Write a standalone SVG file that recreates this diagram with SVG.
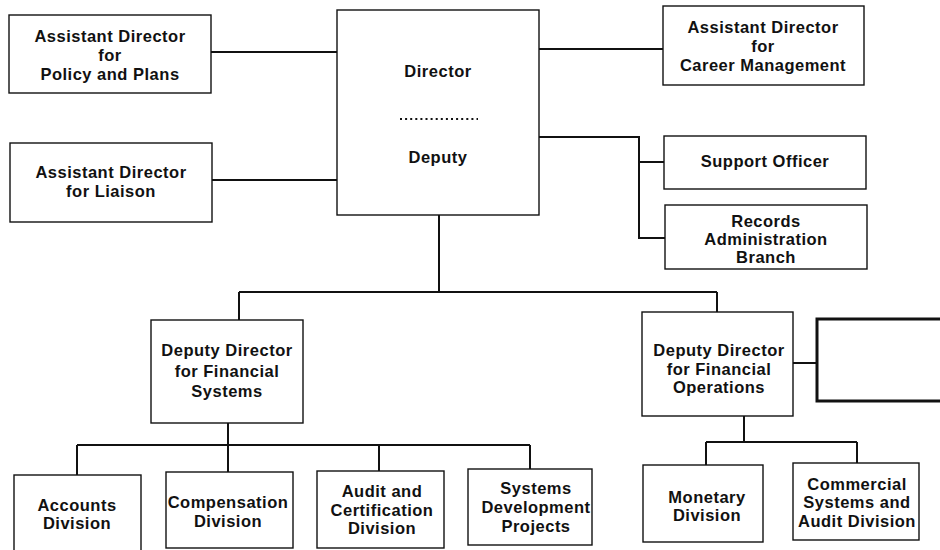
<svg xmlns="http://www.w3.org/2000/svg" width="940" height="550" viewBox="0 0 940 550">
<style>
.box{fill:#fff;stroke:#111;stroke-width:1.4}
.thick{fill:#fff;stroke:#111;stroke-width:3}
.con{fill:none;stroke:#111;stroke-width:2}
text{font-family:"Liberation Sans",Arial,sans-serif;font-size:16.5px;font-weight:bold;letter-spacing:0.5px;fill:#111;text-anchor:middle}
</style>
<rect width="940" height="550" fill="#fff"/>
<g id="connectors">
<path class="con" d="M211 52H337M212 180H337M539 49H663M539 137H639V238H665M639 162H664M439 215V292M239 292H717M239 292V320M717 292V312M228 423V445M77 445H530M77 445V475M228 445V472M379 445V471M530 445V469M744 416V442M706 442H857M706 442V465M857 442V463M793 363H817"/>
</g>
<g id="director">
<rect class="box" x="337" y="10" width="202" height="205"/>
<text x="438" y="77">Director</text>
<line x1="400" y1="119" x2="478" y2="119" stroke="#111" stroke-width="2" stroke-dasharray="2 3.1"/>
<text x="438" y="163">Deputy</text>
</g>
<g id="policy">
<rect class="box" x="9" y="15" width="202" height="78"/>
<text x="110" y="42">Assistant Director</text>
<text x="110" y="61">for</text>
<text x="110" y="80">Policy and Plans</text>
</g>
<g id="liaison">
<rect class="box" x="10" y="143" width="202" height="79"/>
<text x="111" y="178">Assistant Director</text>
<text x="111" y="197">for Liaison</text>
</g>
<g id="career">
<rect class="box" x="663" y="6" width="201" height="79"/>
<text x="763" y="33">Assistant Director</text>
<text x="763" y="52">for</text>
<text x="763" y="71">Career Management</text>
</g>
<g id="support">
<rect class="box" x="664" y="136" width="202" height="53"/>
<text x="765" y="167">Support Officer</text>
</g>
<g id="records">
<rect class="box" x="665" y="205" width="202" height="64"/>
<text x="766" y="227">Records</text>
<text x="766" y="245">Administration</text>
<text x="766" y="263">Branch</text>
</g>
<g id="dd-systems">
<rect class="box" x="151" y="320" width="152" height="103"/>
<text x="227" y="356">Deputy Director</text>
<text x="227" y="377">for Financial</text>
<text x="227" y="397">Systems</text>
</g>
<g id="dd-operations">
<rect class="box" x="642" y="312" width="151" height="104"/>
<text x="719" y="356">Deputy Director</text>
<text x="719" y="375">for Financial</text>
<text x="719" y="393">Operations</text>
</g>
<g id="blank-box">
<rect class="thick" x="817" y="319" width="140" height="82"/>
</g>
<g id="accounts">
<rect class="box" x="14" y="475" width="127" height="85"/>
<text x="77" y="511">Accounts</text>
<text x="77" y="529">Division</text>
</g>
<g id="compensation">
<rect class="box" x="166" y="472" width="127" height="76"/>
<text x="228" y="508">Compensation</text>
<text x="228" y="527">Division</text>
</g>
<g id="audit">
<rect class="box" x="317" y="471" width="127" height="77"/>
<text x="382" y="497">Audit and</text>
<text x="382" y="516">Certification</text>
<text x="382" y="534">Division</text>
</g>
<g id="sysdev">
<rect class="box" x="468" y="469" width="124" height="76"/>
<text x="536" y="494">Systems</text>
<text x="536" y="513">Development</text>
<text x="536" y="532">Projects</text>
</g>
<g id="monetary">
<rect class="box" x="643" y="465" width="120" height="77"/>
<text x="707" y="503">Monetary</text>
<text x="707" y="521">Division</text>
</g>
<g id="commercial">
<rect class="box" x="793" y="463" width="126" height="77"/>
<text x="857" y="490">Commercial</text>
<text x="857" y="508">Systems and</text>
<text x="857" y="527">Audit Division</text>
</g>
</svg>
